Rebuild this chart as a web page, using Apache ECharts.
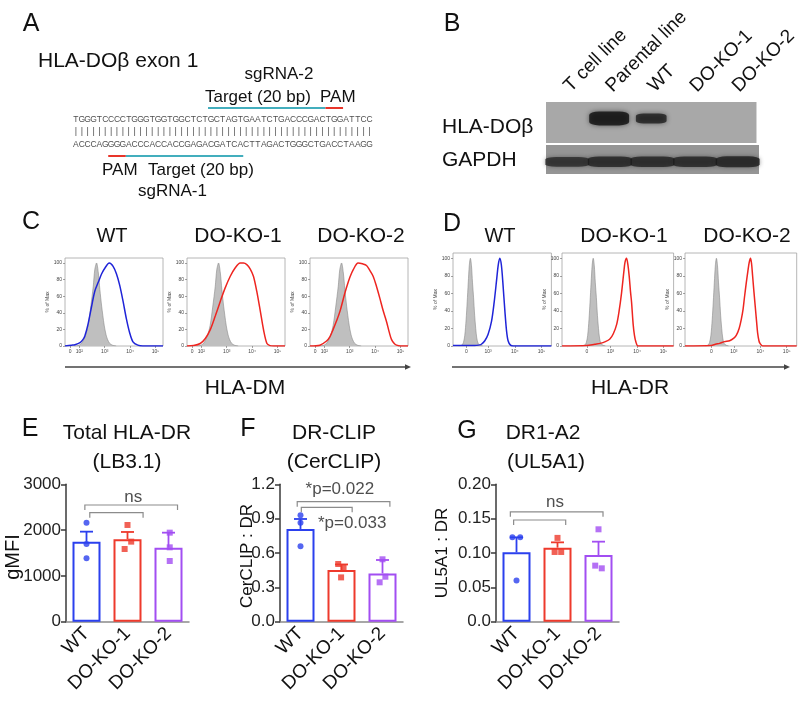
<!DOCTYPE html>
<html><head><meta charset="utf-8">
<script src="https://cdn.jsdelivr.net/npm/echarts@6/dist/echarts.min.js"></script>
<style>html,body{margin:0;padding:0;background:#fff}#c{width:800px;height:705px}</style>
</head><body><div id="c"></div>
<script>
// ---------------- DATA ----------------
// Panel A: HLA-DObeta exon 1 sequence and sgRNA guides (nucleotide positions 1..51)
const seqTop    = 'TGGGTCCCCTGGGTGGTGGCTCTGCTAGTGAATCTGACCCGACTGGATTCC';
const seqBottom = 'ACCCAGGGGACCCACCACCGAGACGATCACTTAGACTGGGCTGACCTAAGG';
const guideStart  = [24, 44, 7, 10];
const guideEnd    = [43, 46, 9, 29];
const guideStrand = ['top', 'top', 'bottom', 'bottom'];
const guideKind   = ['target', 'pam', 'pam', 'target'];

// Panel B: western blot lanes and band intensities (0..1)
const lanes = ['T cell line', 'Parental line', 'WT', 'DO-KO-1', 'DO-KO-2'];
const doBetaBand = [0, 1.0, 0.6, 0, 0];
const gapdhBand  = [0.75, 0.9, 0.9, 0.9, 1.0];

// Panels C/D: flow histograms, x in log-display decades, y in % of max
const histTickValsC = [1.64, 2, 3, 4, 5];
const histTickLabsC = ['0', '10²', '10³', '10⁴', '10⁵'];
const histTickValsDWT = [2.19, 3, 4, 5];
const histTickValsDKO1 = [2.10, 3, 4, 5];
const histTickValsDKO2 = [2.15, 3, 4, 5];
const histTickLabsD = ['0', '10³', '10⁴', '10⁵'];
const histYTicks = [0, 20, 40, 60, 80, 100];

const grayC = [[1.80,0],[1.95,0.5],[2.05,2],[2.15,6],[2.25,13],[2.35,25],[2.45,47],[2.55,72],[2.61,92],[2.68,100],[2.75,88],[2.81,68],[2.88,48],[2.98,25],[3.05,14],[3.11,8],[3.20,3],[3.30,1],[3.45,0]];
const dmWT  = [[1.44,0],[1.70,1],[1.83,1.5],[2.03,4],[2.15,8],[2.22,12],[2.35,27],[2.48,47],[2.61,66],[2.75,77],[2.88,87],[3.01,94],[3.18,100],[3.33,96],[3.46,87],[3.59,73],[3.72,54],[3.85,33],[3.98,16],[4.11,5],[4.30,1],[4.50,0],[5.29,0]];
const dmKO1 = [[1.44,0],[1.70,0.5],[1.96,3],[2.16,9],[2.36,20],[2.55,36],[2.75,54],[2.94,70],[3.14,84],[3.33,94],[3.53,100],[3.66,100],[3.79,98],[3.92,93],[4.05,84],[4.18,66],[4.32,42],[4.45,19],[4.58,3],[4.70,0.5],[4.85,0],[5.29,0]];
const dmKO2 = [[1.44,0],[1.83,1],[2.09,6],[2.22,11],[2.35,20],[2.48,30],[2.62,42],[2.75,57],[2.88,71],[3.01,83],[3.14,92],[3.33,100],[3.50,99],[3.66,97],[3.79,91],[3.92,84],[4.05,72],[4.18,58],[4.31,43],[4.45,29],[4.55,17],[4.64,8],[4.75,3],[4.84,1],[5.00,0],[5.29,0]];

const grayD = [[1.90,0],[2.02,1],[2.08,4],[2.13,12],[2.18,30],[2.22,50],[2.26,72],[2.30,92],[2.34,100],[2.38,92],[2.42,72],[2.46,55],[2.50,35],[2.54,20],[2.58,9],[2.63,3],[2.70,1],[2.80,0]];
const drWT  = [[1.69,0.5],[2.50,0.5],[2.65,1],[2.75,2],[2.88,6],[3.00,13],[3.13,28],[3.23,50],[3.32,75],[3.38,92],[3.44,100],[3.50,92],[3.56,70],[3.63,40],[3.69,18],[3.75,6],[3.84,1],[3.94,0],[5.37,0]];
const drKO1 = [[1.16,0],[2.10,0.5],[2.40,2],[2.60,3],[2.80,5],[2.97,8],[3.10,14],[3.23,25],[3.32,40],[3.41,60],[3.50,85],[3.54,95],[3.60,100],[3.65,93],[3.70,80],[3.75,62],[3.79,50],[3.85,25],[3.90,12],[3.95,5],[4.04,0],[5.38,0]];
const drKO2 = [[1.15,0],[2.15,0.5],[2.30,2],[2.46,3],[2.65,5],[2.84,6],[3.00,9],[3.09,12],[3.20,20],[3.28,30],[3.35,42],[3.40,55],[3.47,72],[3.53,85],[3.58,95],[3.63,100],[3.67,94],[3.71,80],[3.76,62],[3.81,45],[3.86,28],[3.90,15],[3.95,6],[3.99,3],[4.09,0],[5.38,0]];

// Panels E/F/G: bar charts (mean, error-bar top, individual points)
const groups = ['WT', 'DO-KO-1', 'DO-KO-2'];
const eMean = [1748, 1799, 1617];
const eErrTop = [1966, 1959, 1944];
const ePoints = [[2163, 1697, 1383], [2112, 1748, 1587], [1944, 1624, 1325]];
const eJitter = [[0, 0, 0], [0, 0.09, -0.07], [0.03, 0.03, 0.03]];

const fMean = [0.81, 0.451, 0.422];
const fErrTop = [0.897, 0.50, 0.539];
const fPoints = [[0.929, 0.865, 0.658], [0.504, 0.472, 0.387], [0.545, 0.393, 0.344]];
const fJitter = [[0, 0, 0], [-0.08, 0.05, -0.01], [0, 0.07, -0.07]];

const gMean = [0.101, 0.1078, 0.0971];
const gErrTop = [0.1228, 0.1155, 0.1165];
const gPoints = [[0.123, 0.123, 0.060], [0.122, 0.1015, 0.1015], [0.1345, 0.0816, 0.0777]];
const gJitter = [[-0.1, 0.09, 0], [0, -0.07, 0.09], [0, -0.08, 0.08]];

// significance brackets: [from group, to group, y]
const eBrackets = [[-0.04, 2.22, 2548], [0.08, 1.38, 2380]];
const fBrackets = [[-0.08, 2.18, 1.048], [0.02, 1.26, 0.999]];
const gBrackets = [[-0.15, 2.11, 0.160], [-0.07, 1.20, 0.148]];
const eNotes = [[1.14, 2723, 'ns']];
const fNotes = [[0.96, 1.159, '*p=0.022'], [1.26, 0.862, '*p=0.033']];
const gNotes = [[0.94, 0.1732, 'ns']];

// ---------------- STYLE ----------------
const FONT = "'Liberation Sans', Arial, Helvetica, sans-serif";
const BLUE = '#2b40ee', RED = '#ee3a2c', PURPLE = '#a24ef2';
const HBLUE = '#1f24d8', HRED = '#ee2520';
const TEAL = '#43aebd', PAMRED = '#e8352a';
const groupColors = [BLUE, RED, PURPLE];
const groupSymbols = ['circle', 'rect', 'rect'];

const chart = echarts.init(document.getElementById('c'), null, {renderer: 'canvas', width: 800, height: 705});

const grids = [], xAxes = [], yAxes = [], series = [];

// ---- Panel A grid (0) ----
grids.push({left: 73, top: 100, width: 299.4, height: 60});
xAxes.push({type: 'value', gridIndex: 0, min: 0.5, max: 51.5, show: false});
yAxes.push({type: 'value', gridIndex: 0, min: 0, max: 60, inverse: true, show: false});
const ROW = {topLine: 8, top: 20, bars: 32, bottom: 45, bottomLine: 56};
function letterSeries(data, size) {
  return {type: 'scatter', xAxisIndex: 0, yAxisIndex: 0, symbolSize: 1, silent: true,
    itemStyle: {color: 'transparent'}, data: data,
    label: {show: true, position: 'inside', formatter: p => p.data[2], fontSize: size, color: '#1a1a1a', fontFamily: FONT}};
}
series.push(letterSeries(seqTop.split('').map((c, i) => [i + 1, ROW.top, c]), 8.5));
series.push(letterSeries(seqBottom.split('').map((c, i) => [i + 1, ROW.bottom, c]), 8.5));
series.push(letterSeries(seqTop.split('').map((c, i) => [i + 1, ROW.bars, '|']), 9));
series.push({type: 'scatter', xAxisIndex: 0, yAxisIndex: 0, symbolSize: 1, silent: true, itemStyle: {color: 'transparent'},
  data: [[0.2, ROW.top, "5' . ."], [0.2, ROW.bottom, "3' . ."]],
  label: {show: true, position: 'left', distance: 0, formatter: p => p.data[2], fontSize: 8, color: '#1a1a1a', fontFamily: FONT}});
series.push({type: 'scatter', xAxisIndex: 0, yAxisIndex: 0, symbolSize: 1, silent: true, itemStyle: {color: 'transparent'},
  data: [[51.8, ROW.top, ". . 3'"], [51.8, ROW.bottom, ". . 5'"]],
  label: {show: true, position: 'right', distance: 0, formatter: p => p.data[2], fontSize: 8, color: '#1a1a1a', fontFamily: FONT}});
series.push({type: 'custom', xAxisIndex: 0, yAxisIndex: 0, silent: true,
  data: guideStart.map((s, i) => [s - 0.5, guideEnd[i] + 0.5, guideStrand[i] === 'top' ? ROW.topLine : ROW.bottomLine]),
  encode: {x: [0, 1], y: 2},
  renderItem: (params, api) => {
    const a = api.coord([api.value(0), api.value(2)]), b = api.coord([api.value(1), api.value(2)]);
    return {type: 'line', shape: {x1: a[0], y1: a[1], x2: b[0], y2: b[1]},
      style: {stroke: guideKind[params.dataIndex] === 'pam' ? PAMRED : TEAL, lineWidth: 2}};
  }});

// ---- Panel B grids (1,2) ----
grids.push({left: 546, top: 102, width: 213, height: 41, show: true, backgroundColor: '#a8a8a8', borderWidth: 0});
grids.push({left: 546, top: 145, width: 213, height: 29, show: true, backgroundColor: '#959595', borderWidth: 0});
xAxes.push({type: 'category', gridIndex: 1, data: lanes, position: 'top',
  axisLine: {show: false}, axisTick: {show: false},
  axisLabel: {interval: 0, rotate: 45, margin: 13, fontSize: 19, color: '#111', fontFamily: FONT}});
xAxes.push({type: 'category', gridIndex: 2, data: lanes, show: false});
yAxes.push({type: 'value', gridIndex: 1, min: 0, max: 1, show: false});
yAxes.push({type: 'value', gridIndex: 2, min: 0, max: 1, show: false});
series.push({type: 'scatter', xAxisIndex: 1, yAxisIndex: 1, silent: true, symbol: 'roundRect',
  data: doBetaBand.map((v, i) => [i, 0.6, v]).filter(d => d[2] > 0),
  symbolSize: d => [42 * (0.4 + 0.55 * d[2]), 4 + 10 * d[2]],
  itemStyle: {color: p => 'rgba(15,15,15,' + Math.min(1, 0.5 + 0.6 * p.data[2]) + ')', shadowBlur: 5, shadowColor: 'rgba(20,20,20,0.7)'}});
series.push({type: 'scatter', xAxisIndex: 2, yAxisIndex: 2, silent: true, symbol: 'roundRect',
  data: gapdhBand.map((v, i) => [i, 0.42, v]),
  symbolSize: d => [44, 6 + 5 * d[2]],
  itemStyle: {color: p => 'rgba(25,25,25,' + (0.5 + 0.45 * p.data[2]) + ')', shadowBlur: 4, shadowColor: 'rgba(30,30,30,0.6)'}});

// ---- Panels C/D histogram grids (3..8) ----
const histDefs = [
  {box: {left: 65, top: 258, width: 98, height: 88}, min: 1.44, max: 5.29, ticks: histTickValsC, labs: histTickLabsC, gray: grayC, line: dmWT, color: HBLUE},
  {box: {left: 187, top: 258, width: 98, height: 88}, min: 1.44, max: 5.29, ticks: histTickValsC, labs: histTickLabsC, gray: grayC, line: dmKO1, color: HRED},
  {box: {left: 310, top: 258, width: 98, height: 88}, min: 1.44, max: 5.29, ticks: histTickValsC, labs: histTickLabsC, gray: grayC, line: dmKO2, color: HRED},
  {box: {left: 453, top: 253, width: 98.4, height: 93}, min: 1.69, max: 5.37, ticks: histTickValsDWT, labs: histTickLabsD, gray: grayD, line: drWT, color: HBLUE},
  {box: {left: 562, top: 253, width: 111.6, height: 93}, min: 1.16, max: 5.38, ticks: histTickValsDKO1, labs: histTickLabsD, gray: grayD, line: drKO1, color: HRED},
  {box: {left: 685, top: 253, width: 111.7, height: 93}, min: 1.15, max: 5.38, ticks: histTickValsDKO2, labs: histTickLabsD, gray: grayD, line: drKO2, color: HRED}
];
histDefs.forEach((h, k) => {
  const gi = grids.length;
  grids.push(Object.assign({show: true, borderColor: '#a3a3a3', borderWidth: 0.8, backgroundColor: '#fff'}, h.box));
  xAxes.push({type: 'value', gridIndex: gi, min: h.min, max: h.max, axisLine: {show: false}, splitLine: {show: false},
    axisTick: {show: true, customValues: h.ticks, length: 2, lineStyle: {color: '#666', width: 0.6}},
    axisLabel: {customValues: h.ticks, margin: 3, fontSize: 5, color: '#444', fontFamily: FONT,
      formatter: v => { const j = h.ticks.findIndex(t => Math.abs(t - v) < 1e-6); return j >= 0 ? h.labs[j] : ''; }}});
  yAxes.push({type: 'value', gridIndex: gi, min: 0, max: 106, axisLine: {show: false}, splitLine: {show: false},
    axisTick: {show: true, customValues: histYTicks, length: 2, lineStyle: {color: '#666', width: 0.6}},
    axisLabel: {customValues: histYTicks, margin: 3, fontSize: 5, color: '#444', fontFamily: FONT},
    name: '% of Max', nameLocation: 'middle', nameGap: 13, nameTextStyle: {fontSize: 5, color: '#444', fontFamily: FONT}});
  series.push({type: 'line', xAxisIndex: gi, yAxisIndex: gi, data: h.gray, symbol: 'none', smooth: 0.3, silent: true,
    lineStyle: {color: '#8a8a8a', width: 0.6}, areaStyle: {color: '#bfbfbf', opacity: 1}});
  series.push({type: 'line', xAxisIndex: gi, yAxisIndex: gi, data: h.line, symbol: 'none', smooth: 0.3, silent: true,
    lineStyle: {color: h.color, width: 1.5}});
});

// ---- Panels E/F/G bar grids (9..11) ----
const barDefs = [
  {left: 66, max: 3000, interval: 1000, fmt: v => String(v), mean: eMean, err: eErrTop, pts: ePoints, jit: eJitter, br: eBrackets, notes: eNotes},
  {left: 280, max: 1.2, interval: 0.3, fmt: v => v.toFixed(1), mean: fMean, err: fErrTop, pts: fPoints, jit: fJitter, br: fBrackets, notes: fNotes},
  {left: 496, max: 0.2, interval: 0.05, fmt: v => (v === 0 ? '0.0' : v.toFixed(2)), mean: gMean, err: gErrTop, pts: gPoints, jit: gJitter, br: gBrackets, notes: gNotes}
];
const barGridStart = grids.length; // 9
barDefs.forEach(b => grids.push({left: b.left, top: 484.3, width: 123, height: 137.4}));
barDefs.forEach((b, k) => {
  xAxes.push({type: 'category', gridIndex: barGridStart + k, data: groups,
    axisLine: {onZero: false, lineStyle: {color: '#8a8a8a', width: 1.5}}, axisTick: {show: false},
    axisLabel: {interval: 0, rotate: 45, margin: 9, fontSize: 19, color: '#111', fontFamily: FONT}});
});
barDefs.forEach((b, k) => {
  xAxes.push({type: 'value', gridIndex: barGridStart + k, min: -0.5, max: 2.5, show: false, position: 'top'});
});
barDefs.forEach((b, k) => {
  yAxes.push({type: 'value', gridIndex: barGridStart + k, min: 0, max: b.max, interval: b.interval, position: 'left',
    axisLine: {show: true, onZero: false, lineStyle: {color: '#3a3a3a', width: 1.5}},
    axisTick: {show: true, length: 5, lineStyle: {color: '#3a3a3a', width: 1.5}},
    splitLine: {show: false},
    axisLabel: {formatter: b.fmt, fontSize: 17, color: '#222', margin: 5, fontFamily: FONT}});
});
barDefs.forEach((b, k) => {
  const xi = barGridStart + k, vi = barGridStart + 3 + k, yi = barGridStart + k;
  series.push({type: 'bar', xAxisIndex: xi, yAxisIndex: yi, barWidth: 28, silent: true,
    data: b.mean.map((v, i) => ({value: v, itemStyle: {color: 'rgba(255,255,255,0)', borderColor: groupColors[i], borderWidth: 2}}))});
  series.push({type: 'custom', xAxisIndex: vi, yAxisIndex: yi, silent: true,
    data: b.mean.map((m, i) => [i, m, b.err[i]]), encode: {x: 0, y: [1, 2]},
    renderItem: (params, api) => {
      const base = api.coord([api.value(0), api.value(1)]), top = api.coord([api.value(0), api.value(2)]);
      const c = groupColors[params.dataIndex];
      return {type: 'group', children: [
        {type: 'line', shape: {x1: base[0], y1: base[1], x2: top[0], y2: top[1]}, style: {stroke: c, lineWidth: 1.8}},
        {type: 'line', shape: {x1: top[0] - 6.5, y1: top[1], x2: top[0] + 6.5, y2: top[1]}, style: {stroke: c, lineWidth: 1.8}}]};
    }});
  b.pts.forEach((arr, g) => {
    series.push({type: 'scatter', xAxisIndex: vi, yAxisIndex: yi, silent: true, symbol: groupSymbols[g], symbolSize: 6,
      itemStyle: {color: groupColors[g]}, data: arr.map((v, j) => [g + b.jit[g][j], v])});
  });
  series.push({type: 'custom', xAxisIndex: vi, yAxisIndex: yi, silent: true, data: b.br, encode: {x: [0, 1], y: 2},
    renderItem: (params, api) => {
      const a = api.coord([api.value(0), api.value(2)]), c = api.coord([api.value(1), api.value(2)]);
      return {type: 'polyline', shape: {points: [[a[0], a[1] + 5], [a[0], a[1]], [c[0], c[1]], [c[0], c[1] + 5]]},
        style: {stroke: '#8c8c8c', lineWidth: 1.2, fill: null}};
    }});
  series.push({type: 'scatter', xAxisIndex: vi, yAxisIndex: yi, silent: true, symbolSize: 1, itemStyle: {color: 'transparent'},
    data: b.notes, label: {show: true, position: 'inside', formatter: p => p.data[2], fontSize: 17, color: '#222', fontFamily: FONT}});
});

// ---------------- TEXT / ANNOTATIONS ----------------
function txt(text, x, y, size, opt) {
  opt = opt || {};
  return {type: 'text', x: x, y: y, rotation: opt.rot || 0, silent: true,
    style: {text: text, fontSize: size, fontFamily: FONT, fill: opt.color || '#111',
      textAlign: opt.align || 'center', textVerticalAlign: 'middle'}};
}
function arrow(x1, x2, y) {
  return {type: 'group', silent: true, children: [
    {type: 'line', shape: {x1: x1, y1: y, x2: x2 - 3, y2: y}, style: {stroke: '#444', lineWidth: 1.3}},
    {type: 'polygon', shape: {points: [[x2, y], [x2 - 6, y - 2.8], [x2 - 6, y + 2.8]]}, style: {fill: '#444'}}]};
}
const graphic = [
  txt('A', 31, 24, 25), txt('B', 452, 24, 25), txt('C', 31, 222, 25), txt('D', 452, 224, 25),
  txt('E', 30, 429, 25), txt('F', 248, 429, 25), txt('G', 467, 431, 25),
  txt('HLA-DOβ exon 1', 38, 61, 21, {align: 'left'}),
  txt('sgRNA-2', 279, 74, 17),
  txt('Target (20 bp)', 205, 97, 17, {align: 'left'}), txt('PAM', 320, 97, 17, {align: 'left'}),
  txt('PAM', 102, 170, 17, {align: 'left'}), txt('Target (20 bp)', 148, 170, 17, {align: 'left'}),
  txt('sgRNA-1', 172.5, 191, 17),
  txt('HLA-DOβ', 442, 127, 21, {align: 'left'}), txt('GAPDH', 442, 160, 21, {align: 'left'}),
  txt('WT', 112, 236, 20), txt('DO-KO-1', 238, 236, 21), txt('DO-KO-2', 361, 236, 21),
  txt('WT', 500, 236, 20), txt('DO-KO-1', 624, 236, 21), txt('DO-KO-2', 747, 236, 21),
  arrow(65, 411, 367), arrow(452, 790, 367),
  txt('HLA-DM', 245, 388, 21), txt('HLA-DR', 630, 388, 21),
  txt('Total HLA-DR', 127, 433, 21), txt('(LB3.1)', 127, 462, 21),
  txt('DR-CLIP', 334, 433, 21), txt('(CerCLIP)', 334, 462, 21),
  txt('DR1-A2', 543, 433, 21), txt('(UL5A1)', 546, 462, 21),
  txt('gMFI', 13, 557, 20, {rot: Math.PI / 2}),
  txt('CerCLIP : DR', 247, 556, 17, {rot: Math.PI / 2}),
  txt('UL5A1 : DR', 442, 553, 17, {rot: Math.PI / 2})
];

chart.setOption({
  backgroundColor: '#ffffff',
  animation: false,
  textStyle: {fontFamily: FONT},
  grid: grids, xAxis: xAxes, yAxis: yAxes, series: series, graphic: graphic
});
</script></body></html>
